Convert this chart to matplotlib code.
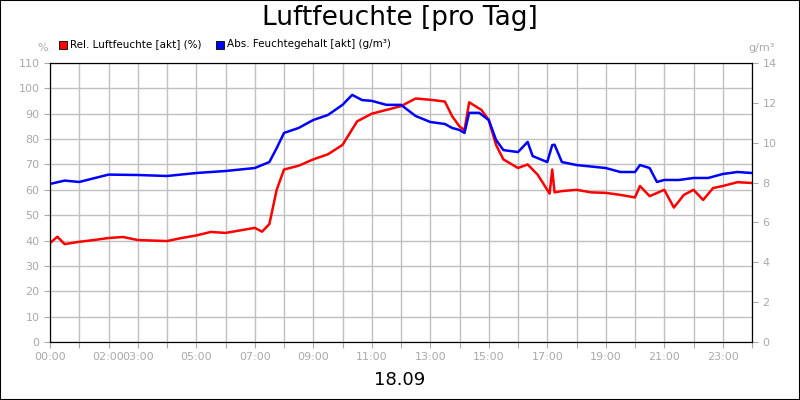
import matplotlib
matplotlib.use("Agg")
import matplotlib.pyplot as plt
from matplotlib.patches import Rectangle

rel_t = [0,0.25,0.5,1,1.5,2,2.5,3,3.5,4,4.5,5,5.5,6,6.5,7,7.25,7.5,7.75,8,8.5,9,9.5,10,10.5,11,11.5,12,12.5,13,13.5,13.75,14,14.17,14.33,14.75,15,15.25,15.5,16,16.33,16.67,17,17.08,17.17,17.25,17.5,18,18.5,19,19.5,20,20.17,20.5,21,21.33,21.67,22,22.33,22.67,23,23.5,24]
rel_v = [39,41.5,38.6,39.5,40.2,41,41.4,40.2,40,39.8,41,42,43.4,43,44,45,43.5,46.5,60,68,69.5,72,74,77.7,87,90,91.5,93,96,95.5,94.8,89,85,83.5,94.5,91.5,87.5,77.7,72,68.6,70,66,60,58.5,68,59,59.5,60,59,58.8,58,57,61.5,57.5,60,53,58,60,56,60.7,61.5,63,62.7]
abs_t = [0,0.5,1,2,3,4,5,6,7,7.5,7.75,8,8.5,9,9.5,10,10.33,10.67,11,11.5,12,12.5,13,13.5,13.75,14,14.17,14.33,14.67,15,15.25,15.5,16,16.33,16.5,17,17.17,17.25,17.5,18,19,19.5,20,20.17,20.5,20.75,21,21.5,22,22.5,23,23.5,24]
abs_v = [7.93,8.1,8.03,8.4,8.38,8.33,8.48,8.58,8.73,9.03,9.73,10.49,10.74,11.14,11.39,11.9,12.4,12.14,12.1,11.9,11.9,11.34,11.04,10.94,10.74,10.64,10.49,11.5,11.5,11.14,10.14,9.63,9.53,10.04,9.33,9.03,9.88,9.9,9.03,8.88,8.73,8.53,8.53,8.88,8.73,8.03,8.13,8.13,8.23,8.23,8.43,8.53,8.48]
xt = [0,2,3,5,7,9,11,13,15,17,19,21,23]
xl = ["00:00","02:00","03:00","05:00","07:00","09:00","11:00","13:00","15:00","17:00","19:00","21:00","23:00"]

fig = plt.figure(figsize=(8,4), dpi=100)
fig.patches.append(Rectangle((0,0),1,1,transform=fig.transFigure,fill=False,ec='black',lw=1.5))
ax = fig.add_axes([50/800, 58/400, 702/800, 279/400])
ax.plot(rel_t, rel_v, color='#ff0000', lw=1.8)
ax.set_xlim(0,24); ax.set_ylim(0,110)
ax.set_yticks(range(0,111,10))
ax.set_xticks(range(25), minor=False)
ax.set_xticklabels([xl[xt.index(h)] if h in xt else "" for h in range(25)])
ax.grid(True, color='#c0c0c0', lw=1)
ax.tick_params(colors='#aaaaaa', labelsize=8, length=4)
for s in ax.spines.values(): s.set_color('black')
ax2 = ax.twinx()
ax2.plot(abs_t, abs_v, color='#0000ff', lw=1.8)
ax2.set_ylim(0,14); ax2.set_yticks(range(0,15,2))
ax2.tick_params(colors='#aaaaaa', labelsize=8, length=4)
for s in ax2.spines.values(): s.set_color('black')
fig.text(0.5, 0.955, "Luftfeuchte [pro Tag]", ha='center', va='center', fontsize=19)
fig.text(0.5, 0.05, "18.09", ha='center', va='center', fontsize=13)
fig.text(43/800, 1-48/400, "%", ha='center', va='center', fontsize=8, color='#aaaaaa')
fig.text(762/800, 1-48/400, "g/m³", ha='center', va='center', fontsize=8, color='#aaaaaa')
fig.patches.append(Rectangle((59/800,1-49/400),8/800,8/400,transform=fig.transFigure,fc='#ff0000',ec='black',lw=0.6))
fig.text(70/800, 1-44/400, "Rel. Luftfeuchte [akt] (%)", va='center', fontsize=7.5)
fig.patches.append(Rectangle((216/800,1-49/400),8/800,8/400,transform=fig.transFigure,fc='#0000ff',ec='black',lw=0.6))
fig.text(227/800, 1-44/400, "Abs. Feuchtegehalt [akt] (g/m³)", va='center', fontsize=7.5)
fig.savefig("out.png", dpi=100)
